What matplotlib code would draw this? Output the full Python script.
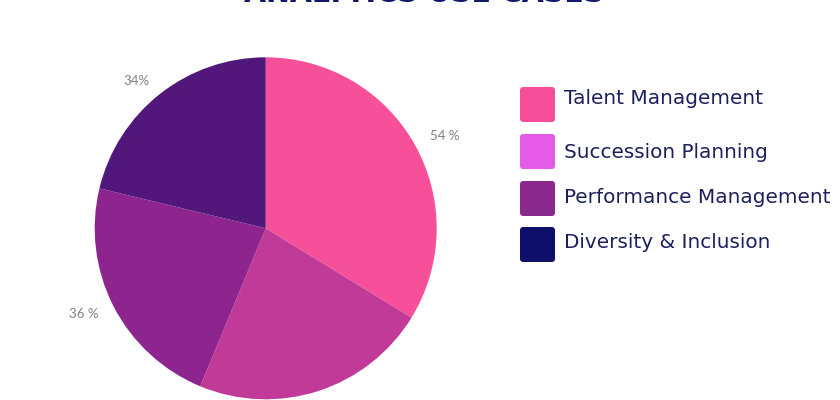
import matplotlib
matplotlib.use("Agg")
import matplotlib.pyplot as plt
from matplotlib.patches import FancyBboxPatch

title = "ANALYTICS USE CASES"
categories = ["Talent Management", "Succession Planning", "Performance Management", "Diversity & Inclusion"]
values = [54, 36, 36, 34]
value_labels = ["54 %", "36 %", "36 %", "34%"]
slice_colors = ["#F7509B", "#C13A98", "#8E258E", "#52177A"]
legend_colors = ["#F74E9A", "#E35BE6", "#8B2A8E", "#0E0F6A"]

W, H = 840, 400
fig = plt.figure(figsize=(W / 100, H / 100), dpi=100)
fig.patch.set_facecolor("white")

cx, cy, r = 265.7, 228.3, 171
ax = fig.add_axes([(cx - r) / W, (H - cy - r) / H, 2 * r / W, 2 * r / H])
ax.pie(values, colors=slice_colors, startangle=90, counterclock=False,
       labels=value_labels, labeldistance=1.1,
       textprops=dict(color="#808080", fontsize=9.5, family="Lato"),
       wedgeprops=dict(linewidth=0))
ax.set_xlim(-1, 1)
ax.set_ylim(-1, 1)
ax.set_aspect("equal")
ax.axis("off")

fig.text(424 / W, 1 - 2.0 / H, title, ha="center", va="baseline",
         fontsize=20.5, fontweight="bold", color="#14186A", family="DejaVu Sans")

sq_y = [104.5, 151.5, 198.5, 244.5]
text_y = [98, 152, 197, 243]
sq = 35
for lab, col, ys, yt in zip(categories, legend_colors, sq_y, text_y):
    p = FancyBboxPatch((520 / W, (H - ys - sq / 2) / H), sq / W, sq / H,
                       boxstyle="round,pad=0,rounding_size=0.004",
                       transform=fig.transFigure, facecolor=col, edgecolor="none",
                       mutation_aspect=W / H)
    fig.patches.append(p)
    fig.text(564 / W, (H - yt) / H, lab, ha="left", va="center",
             fontsize=14.4, color="#1B1F5E", family="DejaVu Sans")

fig.savefig("out.png", dpi=100)
